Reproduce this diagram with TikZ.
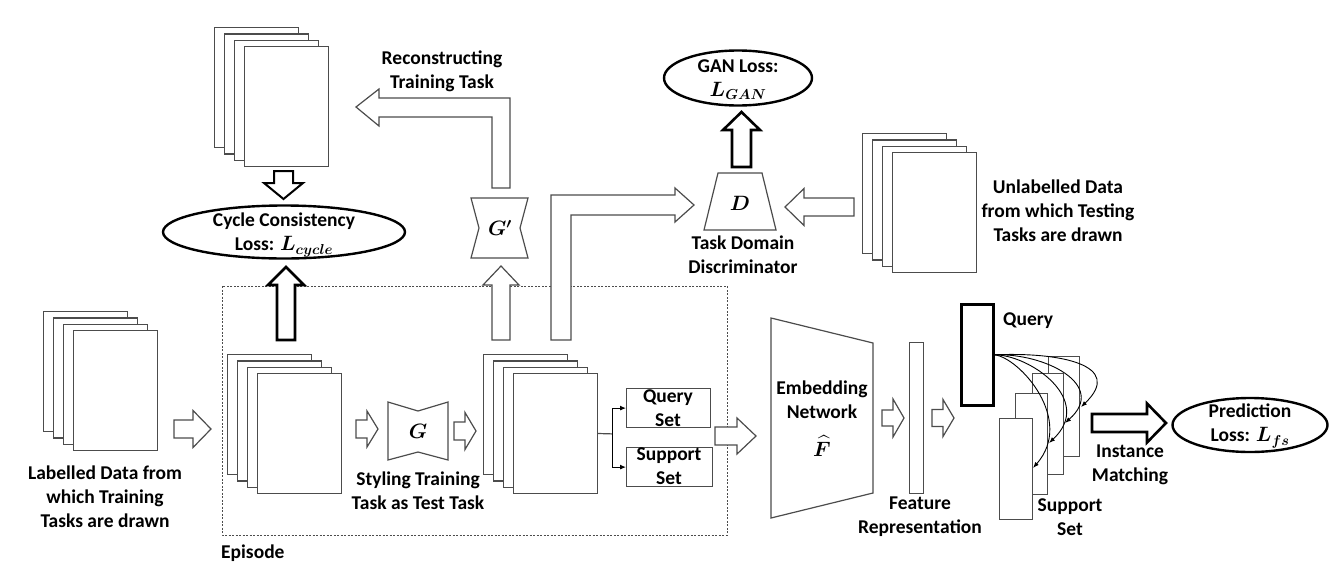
\documentclass[tikz,border=0pt]{standalone}
\usepackage{fontspec}
\setmainfont{Carlito}
\usepackage{amsmath}
\usepackage{bm}
\usetikzlibrary{arrows.meta,shapes.geometric}
\definecolor{linec}{gray}{0.3}

% right/left pointing block arrow: style, x0, x1 (head base), x2 (tip), yc, half shaft, half head
\newcommand\hblock[7]{\draw[#1] (#2,#5-#6) -- (#3,#5-#6) -- (#3,#5-#7) -- (#4,#5) -- (#3,#5+#7) -- (#3,#5+#6) -- (#2,#5+#6) -- cycle;}
% vertical block arrow: style, xc, y0 (tail), y1 (head base), y2 (tip), half shaft, half head
\newcommand\vblock[7]{\draw[#1] (#2-#6,#3) -- (#2-#6,#4) -- (#2-#7,#4) -- (#2,#5) -- (#2+#7,#4) -- (#2+#6,#4) -- (#2+#6,#3) -- cycle;}
\newcommand\pagestack[3]{\foreach \i in {0,1,2,3}{\node[page] (#1\i) at ({#2+10*\i},{#3+6.3*\i}) {};}}

\begin{document}
\begin{tikzpicture}[x=1pt,y=-1pt,
  every node/.style={font=\bfseries\fontsize{19.5}{24}\selectfont, align=center, inner sep=0pt},
  page/.style={draw=linec, fill=white, line width=1.2pt, minimum width=84pt, minimum height=120pt, anchor=north west},
  hollow/.style={draw=linec, fill=white, line width=1.2pt, line join=miter},
  heavy/.style={draw=black, fill=white, line width=2.6pt, line join=miter},
  lossell/.style={draw=black, line width=2.4pt, ellipse, fill=white},
  box/.style={draw=linec, line width=1.2pt, fill=white, rectangle, anchor=north west},
  conn/.style={draw=black, line width=1pt, -{Latex[length=6pt,width=5pt]}},
  curv/.style={draw=black, line width=0.9pt, -{Latex[length=6pt,width=4.5pt]}}
]
\useasboundingbox (0,0) rectangle (1338,584);

% ---------- page stacks ----------
\pagestack{tl}{214}{27}
\pagestack{ul}{862}{133}
\pagestack{lb}{43}{311}
\pagestack{ea}{227}{354}
\pagestack{eb}{483}{354}

% ---------- episode frame ----------
\draw[linec, line width=0.9pt, dash pattern=on 2pt off 1.5pt] (222,286) rectangle (727,535);
\node[anchor=west] (ep) at (221,553) {Episode};

% ---------- loss ellipses ----------
\node[lossell, minimum width=242pt, minimum height=53pt] (cyc) at (284,232) {};
\node (cyct) at (284,235) {Cycle Consistency\\Loss: $\bm{L_{cycle}}$};
\node[lossell, minimum width=148pt, minimum height=55pt] (gan) at (738,78) {};
\node (gant) at (738,80) {GAN Loss:\\$\bm{L_{GAN}}$};
\node[lossell, minimum width=155pt, minimum height=54pt] (pred) at (1250,425) {};
\node (predt) at (1250,426) {Prediction\\Loss: $\bm{L_{fs}}$};

% ---------- generators / discriminator ----------
\draw[hollow] (388,402) -- (418,411) -- (448,402) -- (448,460) -- (418,452) -- (388,460) -- cycle;
\node (G) at (418,431) {$\bm{G}$};
\draw[hollow] (471,198) -- (528,198) -- (520,228) -- (528,258) -- (471,258) -- (479,228) -- cycle;
\node (Gp) at (500,228) {$\bm{G'}$};
\draw[hollow] (718,173) -- (762,173) -- (776,230) -- (704,230) -- cycle;
\node (D) at (740,203) {$\bm{D}$};
\draw[hollow] (771,318) -- (873,343) -- (873,493) -- (771,518) -- cycle;
\node (emb) at (822,400) {Embedding\\Network};
\node (embF) at (822,446) {$\bm{\widehat{F}}$};

% ---------- query / support set boxes ----------
\node[box, minimum width=84pt, minimum height=39pt] (qs) at (626,388) {};
\node (qst) at (668,408) {Query\\Set};
\node[box, minimum width=86pt, minimum height=39pt] (ss) at (626,447) {};
\node (sst) at (669,466) {Support\\Set};
\coordinate (br) at (612,433.9);
\draw[linec, line width=1.2pt] (eb3.east) -- (br);
\draw[conn] (br) |- (qs.west);
\draw[conn] (br) |- (ss.west);

% ---------- feature / query / support ----------
\node[box, minimum width=14pt, minimum height=151pt] (feat) at (909,342) {};
\node[draw=black, line width=2.6pt, minimum width=32pt, minimum height=101pt, anchor=north west] (qry) at (960,303) {};
\node[anchor=west] (qryt) at (1003,321) {Query};
\node[box, minimum width=31pt, minimum height=100pt] (s1) at (1048,356) {};
\node[box, minimum width=31pt, minimum height=101pt] (s2) at (1032,373) {};
\node[box, minimum width=32pt, minimum height=101pt] (s3) at (1015,393) {};
\node[box, minimum width=33pt, minimum height=101pt] (s4) at (999,418) {};
\coordinate (e1) at (1081,407);
\coordinate (e2) at (1065,423);
\coordinate (e3) at (1049,443);
\coordinate (e4) at (1033,468);
\draw[curv] (qry.east) .. controls (1060,352) and (1125,365) .. (e1);
\draw[curv] (qry.east) .. controls (1045,353) and (1108,385) .. (e2);
\draw[curv] (qry.east) .. controls (1030,355) and (1095,400) .. (e3);
\draw[curv] (qry.east) .. controls (1020,358) and (1075,420) .. (e4);

% ---------- block arrows ----------
\hblock{hollow}{174}{193}{211}{429}{9}{18.5}
\hblock{hollow}{356}{367}{378}{429}{9}{18}
\hblock{hollow}{454}{465}{476}{431}{9}{18.5}
\hblock{hollow}{715}{737}{756}{436}{9}{18}
\hblock{hollow}{882}{893}{904}{418}{8}{19}
\hblock{hollow}{932}{943}{954}{418}{8.5}{18.5}
\hblock{heavy}{1092}{1147}{1166}{423}{9}{19.5}
\hblock{hollow}{854}{804}{785}{207}{9}{18.5}
\vblock{heavy}{286}{340}{285}{267}{9}{18}
\vblock{heavy,line width=2pt}{283.5}{171}{183}{199}{9.5}{19.5}
\vblock{hollow}{501}{340}{285}{266}{9}{18}
\vblock{heavy}{741.5}{167}{130}{112}{9.5}{18.5}
\draw[hollow] (492,188) -- (492,117) -- (379,117) -- (379,126) -- (356,107) -- (379,89) -- (379,98) -- (510,98) -- (510,188) -- cycle;
\draw[hollow] (551,340) -- (551,195) -- (675,195) -- (675,188) -- (694,205) -- (675,222) -- (675,215) -- (571,215) -- (571,340) -- cycle;

% ---------- labels ----------
\node (rec) at (442,71) {Reconstructing\\Training Task};
\node (tdd) at (743,255) {Task Domain\\Discriminator};
\node (unl) at (1058,211) {Unlabelled Data\\from which Testing\\Tasks are drawn};
\node (lab) at (105,497) {Labelled Data from\\which Training\\Tasks are drawn};
\node (sty) at (418,491) {Styling Training\\Task as Test Task};
\node (fr) at (920,517) {Feature\\Representation};
\node (sup) at (1070,517) {Support\\Set};
\node (im) at (1130,465) {Instance\\Matching};
\end{tikzpicture}
\end{document}
